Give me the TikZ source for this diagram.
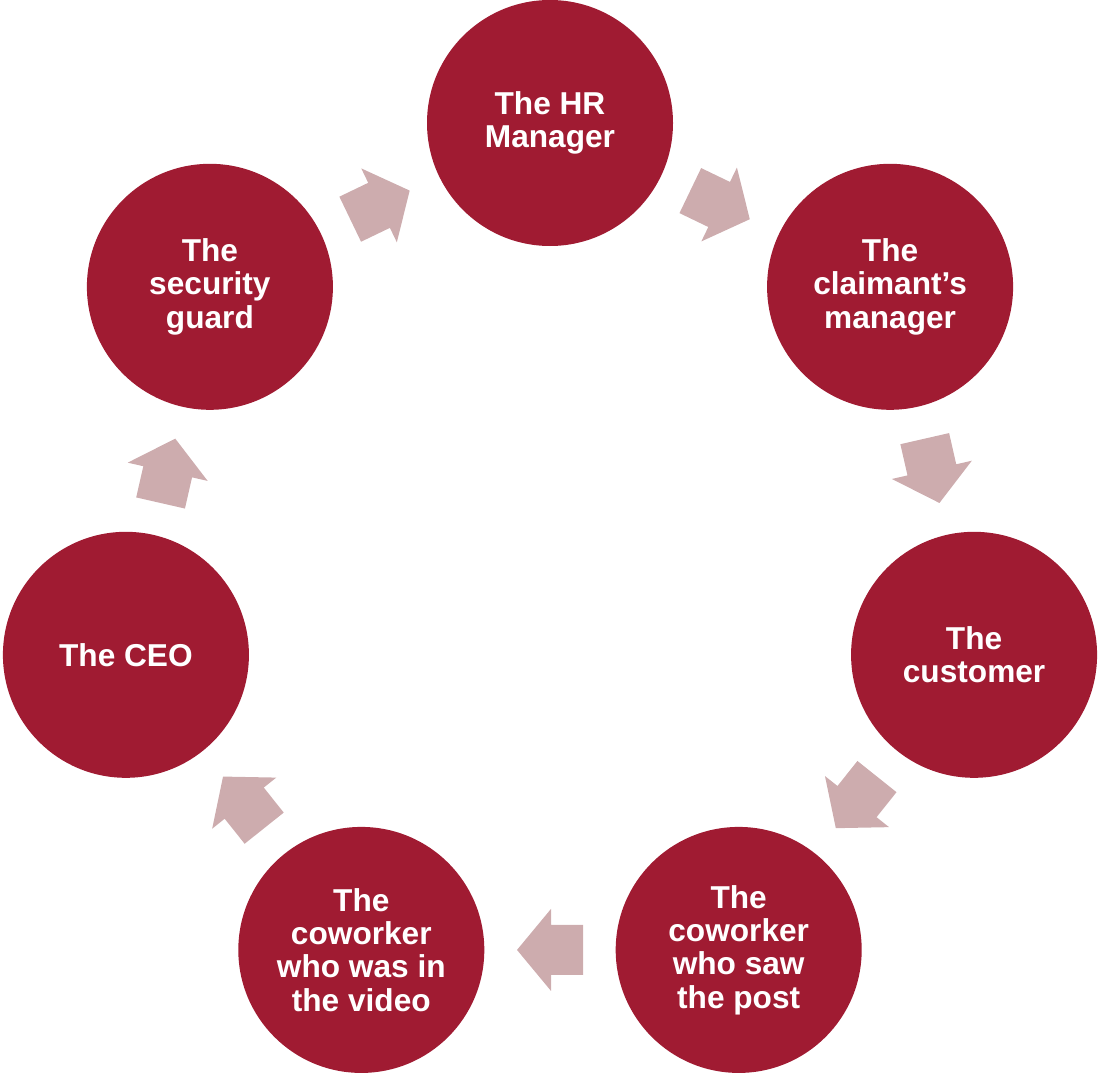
\documentclass[tikz,border=0pt]{standalone}
\usepackage{fontspec}
\setmainfont{Liberation Sans}
\usetikzlibrary{calc}
\definecolor{cyclered}{RGB}{160,27,50}
\definecolor{cyclepink}{RGB}{205,172,174}
\tikzset{
  person/.style={circle, fill=cyclered, text=white, minimum size=4.92cm,
    inner sep=0pt, align=center, font=\fontsize{18}{19}\selectfont\bfseries},
  flowarrow/.style={fill=cyclepink}
}
% block arrow halfway between two circles, turned to #3 degrees
\newcommand{\cyclearrow}[3]{%
  \fill[flowarrow, shift={($(#1)!0.5!(#2)$)}, rotate=#3]
    (-0.66,-0.5) -- (-0.02,-0.5) -- (-0.02,-0.82) -- (0.66,0)
    -- (-0.02,0.82) -- (-0.02,0.5) -- (-0.66,0.5) -- cycle;}

\begin{document}
\begin{tikzpicture}
  \useasboundingbox (-11.0,-10.28) rectangle (10.98,11.16);

  % the seven people around the cycle
  \node[person] (hr)       at (90:8.7)      {The HR\\Manager};
  \node[person] (claimmgr) at (38.57:8.7)   {The\\claimant’s\\manager};
  \node[person] (customer) at (-12.86:8.7)  {The\\customer};
  \node[person] (sawpost)  at (-64.29:8.7)  {The\\coworker\\who saw\\the post};
  \node[person] (invideo)  at (-115.71:8.7) {The\\coworker\\who was in\\the video};
  \node[person] (ceo)      at (-167.14:8.7) {The CEO};
  \node[person] (guard)    at (141.43:8.7)  {The\\security\\guard};

  % arrows, clockwise
  \cyclearrow{hr}{claimmgr}{-25.71}
  \cyclearrow{claimmgr}{customer}{-77.14}
  \cyclearrow{customer}{sawpost}{-128.57}
  \cyclearrow{sawpost}{invideo}{-180}
  \cyclearrow{invideo}{ceo}{-231.43}
  \cyclearrow{ceo}{guard}{-282.86}
  \cyclearrow{guard}{hr}{-334.29}
\end{tikzpicture}
\end{document}
